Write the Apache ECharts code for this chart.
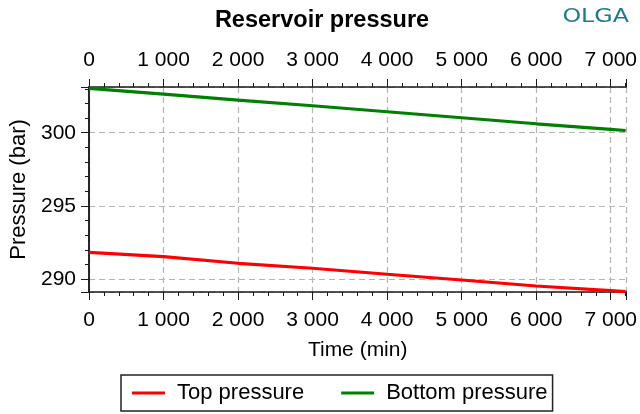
<!DOCTYPE html>
<html>
<head>
<meta charset="utf-8">
<script src="https://cdn.jsdelivr.net/npm/echarts@6/dist/echarts.min.js"></script>
<style>html,body{margin:0;padding:0;background:#fff}#c{width:640px;height:414px}</style>
</head>
<body>
<div id="c"></div>
<script>
// Data
var timeMin = [0, 1000, 2000, 3000, 4000, 5000, 6000, 7000, 7200];
var topPressure = [291.84, 291.54, 291.09, 290.75, 290.34, 289.95, 289.54, 289.22, 289.15];
var bottomPressure = [303.03, 302.63, 302.22, 301.84, 301.43, 301.02, 300.61, 300.23, 300.15];
var seriesNames = ['Top pressure', 'Bottom pressure'];
var xRange = [0, 7210];
var yRange = [289.13, 303.12];

function pairs(xs, ys) { return xs.map(function (x, i) { return [x, ys[i]]; }); }
function fmtThousands(v) {
  var s = String(Math.round(v));
  return s.replace(/\B(?=(\d{3})+(?!\d))/g, ' ');
}

var FONT = 'Liberation Sans';
var AXIS_COLOR = '#1a1a1a';
var labelStyle = { fontFamily: FONT, fontSize: 21, color: '#000' };
var gridLine = { show: true, lineStyle: { color: '#b4b4b4', type: [6, 4], width: 1.2 } };

var chart = echarts.init(document.getElementById('c'), null, { renderer: 'canvas' });
chart.setOption({
  animation: false,
  backgroundColor: '#fff',
  title: {
    text: 'Reservoir pressure',
    left: 317, top: 4, textAlign: 'center',
    textStyle: { fontFamily: FONT, fontSize: 23.5, fontWeight: 'bold', color: '#000' }
  },
  graphic: [{
    type: 'text', right: 11, top: 8, scaleX: 1.25,
    style: { text: 'OLGA', font: '19px "DejaVu Sans"', fill: '#1f7a8c' }
  }],
  grid: { left: 89, right: 11, top: 87, bottom: 122 },
  legend: {
    left: 121, top: 375,
    borderColor: '#222', borderWidth: 1.5,
    padding: [7, 5, 7, 11],
    itemWidth: 33, itemHeight: 3, itemGap: 37, icon: 'rect',
    textStyle: { fontFamily: FONT, fontSize: 22, color: '#000', padding: [0, 0, 0, 7] },
    data: seriesNames
  },
  xAxis: [{
    type: 'value', position: 'bottom', min: xRange[0], max: xRange[1], interval: 1000,
    name: 'Time (min)', nameLocation: 'middle', nameGap: 48,
    nameTextStyle: { fontFamily: FONT, fontSize: 21, color: '#000' },
    axisLine: { show: true, lineStyle: { color: AXIS_COLOR, width: 1.5 } },
    axisTick: { show: true, length: 8, lineStyle: { color: AXIS_COLOR } },
    minorTick: { show: true, splitNumber: 5, length: 4, lineStyle: { color: AXIS_COLOR } },
    axisLabel: Object.assign({ margin: 18, showMaxLabel: false, formatter: fmtThousands }, labelStyle),
    splitLine: gridLine
  }, {
    type: 'value', position: 'top', min: xRange[0], max: xRange[1], interval: 1000,
    axisLine: { show: true, lineStyle: { color: AXIS_COLOR, width: 1.5 } },
    axisTick: { show: true, length: 8, lineStyle: { color: AXIS_COLOR } },
    minorTick: { show: true, splitNumber: 5, length: 4, lineStyle: { color: AXIS_COLOR } },
    axisLabel: Object.assign({ margin: 16, showMaxLabel: false, formatter: fmtThousands }, labelStyle),
    splitLine: { show: false }
  }],
  yAxis: [{
    type: 'value', position: 'left', min: yRange[0], max: yRange[1],
    splitNumber: 3, minInterval: 5, maxInterval: 5,
    name: 'Pressure (bar)', nameLocation: 'middle', nameGap: 56, nameRotate: 90,
    nameTextStyle: { fontFamily: FONT, fontSize: 22, color: '#000' },
    axisLine: { show: true, lineStyle: { color: AXIS_COLOR, width: 1.5 } },
    axisTick: { show: true, length: 8, lineStyle: { color: AXIS_COLOR } },
    minorTick: { show: true, splitNumber: 5, length: 4, lineStyle: { color: AXIS_COLOR } },
    axisLabel: Object.assign({ margin: 13, showMinLabel: false, showMaxLabel: false }, labelStyle),
    splitLine: gridLine
  }, {
    type: 'value', position: 'right', min: yRange[0], max: yRange[1],
    axisLine: { show: true, lineStyle: { color: AXIS_COLOR, width: 1.5 } },
    axisTick: { show: false }, axisLabel: { show: false }, splitLine: { show: false }
  }],
  series: [{
    name: seriesNames[0], type: 'line', xAxisIndex: 0, yAxisIndex: 0,
    data: pairs(timeMin, topPressure), showSymbol: false, symbol: 'none',
    lineStyle: { color: '#ff0000', width: 3.2 }, itemStyle: { color: '#ff0000' }
  }, {
    name: seriesNames[1], type: 'line', xAxisIndex: 0, yAxisIndex: 0,
    data: pairs(timeMin, bottomPressure), showSymbol: false, symbol: 'none',
    lineStyle: { color: '#008000', width: 3.2 }, itemStyle: { color: '#008000' }
  }]
});
</script>
</body>
</html>
